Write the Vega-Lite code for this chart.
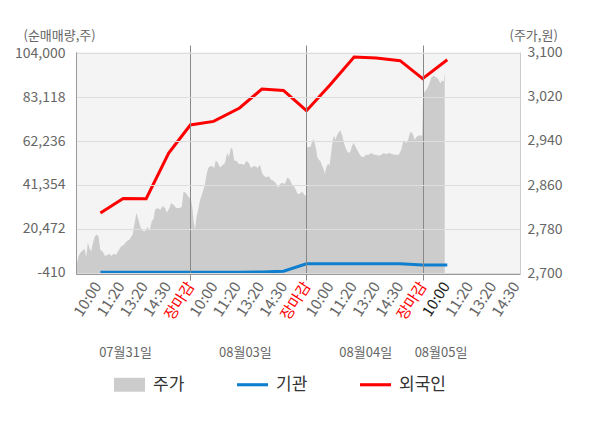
{
  "$schema": "https://vega.github.io/schema/vega-lite/v6.json",
  "width": 444,
  "height": 222,
  "autosize": "none",
  "padding": {"left": 76, "top": 52, "right": 80, "bottom": 154},
  "background": "white",
  "config": {
    "font": "Noto Sans CJK KR",
    "view": {"fill": "#f4f4f4", "stroke": null},
    "axis": {"labelFont": "Noto Sans CJK KR", "titleFont": "Noto Sans CJK KR", "titleFontWeight": "normal"}
  },
  "datasets": {
    "price": [
      {"t": 0.08, "p": 2714}, {"t": 0.13, "p": 2718}, {"t": 0.19, "p": 2731}, {"t": 0.27, "p": 2737},
      {"t": 0.37, "p": 2741}, {"t": 0.45, "p": 2744}, {"t": 0.52, "p": 2729}, {"t": 0.59, "p": 2756},
      {"t": 0.66, "p": 2745}, {"t": 0.73, "p": 2739}, {"t": 0.80, "p": 2753}, {"t": 0.87, "p": 2764},
      {"t": 0.95, "p": 2770}, {"t": 1.05, "p": 2767}, {"t": 1.13, "p": 2742}, {"t": 1.23, "p": 2739},
      {"t": 1.33, "p": 2731}, {"t": 1.45, "p": 2733}, {"t": 1.52, "p": 2735}, {"t": 1.59, "p": 2731},
      {"t": 1.70, "p": 2735}, {"t": 1.81, "p": 2733}, {"t": 1.88, "p": 2739}, {"t": 2.02, "p": 2748},
      {"t": 2.13, "p": 2751}, {"t": 2.24, "p": 2757}, {"t": 2.38, "p": 2761}, {"t": 2.52, "p": 2770},
      {"t": 2.59, "p": 2788}, {"t": 2.68, "p": 2809}, {"t": 2.77, "p": 2797}, {"t": 2.85, "p": 2784},
      {"t": 2.95, "p": 2777}, {"t": 3.05, "p": 2776}, {"t": 3.17, "p": 2784}, {"t": 3.24, "p": 2776},
      {"t": 3.34, "p": 2794}, {"t": 3.42, "p": 2798}, {"t": 3.48, "p": 2815}, {"t": 3.59, "p": 2818},
      {"t": 3.71, "p": 2815}, {"t": 3.81, "p": 2822}, {"t": 3.91, "p": 2818}, {"t": 4.00, "p": 2810},
      {"t": 4.10, "p": 2818}, {"t": 4.17, "p": 2827}, {"t": 4.28, "p": 2824}, {"t": 4.39, "p": 2818},
      {"t": 4.53, "p": 2818}, {"t": 4.63, "p": 2820}, {"t": 4.71, "p": 2848}, {"t": 4.82, "p": 2845},
      {"t": 4.91, "p": 2839}, {"t": 5.00, "p": 2836},
      {"t": 5.03, "p": 2833}, {"t": 5.09, "p": 2818}, {"t": 5.14, "p": 2795}, {"t": 5.20, "p": 2779},
      {"t": 5.27, "p": 2803}, {"t": 5.34, "p": 2815}, {"t": 5.42, "p": 2833}, {"t": 5.49, "p": 2842},
      {"t": 5.56, "p": 2851}, {"t": 5.63, "p": 2861}, {"t": 5.70, "p": 2879}, {"t": 5.77, "p": 2891},
      {"t": 5.85, "p": 2894}, {"t": 5.95, "p": 2894}, {"t": 6.03, "p": 2891}, {"t": 6.09, "p": 2904},
      {"t": 6.17, "p": 2902}, {"t": 6.28, "p": 2892}, {"t": 6.38, "p": 2896}, {"t": 6.49, "p": 2900},
      {"t": 6.58, "p": 2918}, {"t": 6.66, "p": 2912}, {"t": 6.75, "p": 2928}, {"t": 6.82, "p": 2924},
      {"t": 6.89, "p": 2904}, {"t": 6.99, "p": 2904}, {"t": 7.09, "p": 2898}, {"t": 7.20, "p": 2898},
      {"t": 7.32, "p": 2897}, {"t": 7.42, "p": 2904}, {"t": 7.52, "p": 2900}, {"t": 7.61, "p": 2891},
      {"t": 7.71, "p": 2894}, {"t": 7.81, "p": 2894}, {"t": 7.89, "p": 2891}, {"t": 8.00, "p": 2897},
      {"t": 8.09, "p": 2882}, {"t": 8.18, "p": 2876}, {"t": 8.28, "p": 2874}, {"t": 8.38, "p": 2876},
      {"t": 8.47, "p": 2870}, {"t": 8.57, "p": 2868}, {"t": 8.67, "p": 2864}, {"t": 8.78, "p": 2855},
      {"t": 8.87, "p": 2862}, {"t": 8.95, "p": 2864}, {"t": 9.07, "p": 2862}, {"t": 9.18, "p": 2874},
      {"t": 9.28, "p": 2870}, {"t": 9.38, "p": 2861}, {"t": 9.50, "p": 2855}, {"t": 9.61, "p": 2844},
      {"t": 9.71, "p": 2844}, {"t": 9.81, "p": 2848}, {"t": 9.93, "p": 2841}, {"t": 9.99, "p": 2841},
      {"t": 10.03, "p": 2929}, {"t": 10.17, "p": 2929}, {"t": 10.29, "p": 2944}, {"t": 10.36, "p": 2936},
      {"t": 10.42, "p": 2924}, {"t": 10.46, "p": 2912}, {"t": 10.53, "p": 2906}, {"t": 10.60, "p": 2903},
      {"t": 10.67, "p": 2895}, {"t": 10.75, "p": 2888}, {"t": 10.79, "p": 2879}, {"t": 10.84, "p": 2891},
      {"t": 10.93, "p": 2899}, {"t": 10.99, "p": 2895}, {"t": 11.07, "p": 2921}, {"t": 11.13, "p": 2942},
      {"t": 11.19, "p": 2950}, {"t": 11.24, "p": 2942}, {"t": 11.32, "p": 2951}, {"t": 11.39, "p": 2956},
      {"t": 11.46, "p": 2959}, {"t": 11.53, "p": 2951}, {"t": 11.60, "p": 2939}, {"t": 11.67, "p": 2929},
      {"t": 11.75, "p": 2921}, {"t": 11.82, "p": 2918}, {"t": 11.89, "p": 2921}, {"t": 11.96, "p": 2931},
      {"t": 12.03, "p": 2937}, {"t": 12.10, "p": 2931}, {"t": 12.17, "p": 2925}, {"t": 12.27, "p": 2917},
      {"t": 12.36, "p": 2912}, {"t": 12.46, "p": 2911}, {"t": 12.56, "p": 2915}, {"t": 12.68, "p": 2915},
      {"t": 12.79, "p": 2918}, {"t": 12.90, "p": 2915}, {"t": 13.00, "p": 2915}, {"t": 13.11, "p": 2913},
      {"t": 13.22, "p": 2915}, {"t": 13.33, "p": 2918}, {"t": 13.43, "p": 2916}, {"t": 13.54, "p": 2918},
      {"t": 13.66, "p": 2917}, {"t": 13.76, "p": 2915}, {"t": 13.86, "p": 2915}, {"t": 13.97, "p": 2915},
      {"t": 14.08, "p": 2924}, {"t": 14.18, "p": 2942}, {"t": 14.28, "p": 2936}, {"t": 14.37, "p": 2942},
      {"t": 14.47, "p": 2957}, {"t": 14.57, "p": 2953}, {"t": 14.66, "p": 2942}, {"t": 14.75, "p": 2948},
      {"t": 14.85, "p": 2950}, {"t": 14.98, "p": 2950},
      {"t": 15.02, "p": 3022}, {"t": 15.09, "p": 3030}, {"t": 15.19, "p": 3035}, {"t": 15.26, "p": 3041},
      {"t": 15.37, "p": 3055}, {"t": 15.48, "p": 3059}, {"t": 15.54, "p": 3057}, {"t": 15.66, "p": 3053},
      {"t": 15.76, "p": 3045}, {"t": 15.83, "p": 3050}, {"t": 15.91, "p": 3048}, {"t": 15.95, "p": 3065}
    ],
    "flow": [
      {"t": 1.13, "foreign": 28066, "institution": 0},
      {"t": 2.11, "foreign": 34995, "institution": 0},
      {"t": 3.10, "foreign": 34850, "institution": 0},
      {"t": 4.07, "foreign": 56542, "institution": 0},
      {"t": 5.00, "foreign": 69831, "institution": 0},
      {"t": 6.00, "foreign": 71539, "institution": 0},
      {"t": 7.12, "foreign": 77899, "institution": 0},
      {"t": 8.08, "foreign": 86916, "institution": 50},
      {"t": 9.01, "foreign": 86252, "institution": 400},
      {"t": 10.00, "foreign": 76618, "institution": 4000},
      {"t": 11.02, "foreign": 88900, "institution": 4000},
      {"t": 12.05, "foreign": 102104, "institution": 4000},
      {"t": 13.00, "foreign": 101600, "institution": 4000},
      {"t": 14.03, "foreign": 100348, "institution": 3950},
      {"t": 15.00, "foreign": 91805, "institution": 3400},
      {"t": 16.06, "foreign": 100822, "institution": 3400}
    ]
  },
  "layer": [
    {
      "data": {"name": "price"},
      "mark": {"type": "area", "color": "#cccccc", "opacity": 1},
      "encoding": {
        "x": {
          "field": "t",
          "type": "quantitative",
          "scale": {"domain": [0.08, 19.19], "nice": false, "zero": false},
          "axis": {
            "orient": "bottom",
            "title": null,
            "values": [1, 2, 3, 4, 5, 6, 7, 8, 9, 10, 11, 12, 13, 14, 15, 16, 17, 18, 19],
            "labelExpr": "['10:00','11:20','13:20','14:30','장마감'][(datum.value - 1) % 5]",
            "labelAngle": -57,
            "labelFontSize": 15,
            "labelOverlap": false,
            "labelBound": false,
            "labelFlush": false,
            "labelPadding": 3,
            "labelColor": {
              "condition": [
                {"test": "datum.value % 5 == 0", "value": "#ff0000"},
                {"test": "datum.value == 16", "value": "#222222"}
              ],
              "value": "#666666"
            },
            "tickColor": "#888888",
            "tickSize": 6,
            "tickOpacity": {"condition": {"test": "datum.value % 5 == 0", "value": 1}, "value": 0},
            "domainColor": "#999999",
            "grid": false
          }
        },
        "y": {
          "field": "p",
          "type": "quantitative",
          "scale": {"domain": [2698.2, 3101.8], "nice": false, "zero": false},
          "axis": {
            "orient": "right",
            "values": [2700, 2780, 2860, 2940, 3020, 3100],
            "format": ",.0f",
            "labelFontSize": 14,
            "labelColor": "#666666",
            "labelPadding": 7,
            "ticks": false,
            "tickSize": 0,
            "grid": false,
            "domainColor": "#cccccc",
            "title": "(주가,원)",
            "titleAngle": 0,
            "titleAlign": "left",
            "titleBaseline": "middle",
            "titleX": -11,
            "titleY": -17,
            "titleFontSize": 13,
            "titleColor": "#666666"
          }
        },
        "y2": {"datum": 2698.2},
        "color": {
          "datum": "주가",
          "type": "nominal",
          "scale": {"domain": ["주가", "기관", "외국인"], "range": ["#cccccc", "#0e7fce", "#ff0000"]},
          "legend": {
            "title": null,
            "orient": "none",
            "direction": "horizontal",
            "legendX": 38,
            "legendY": 317,
            "padding": 0,
            "symbolSize": 961,
            "symbolOpacity": 1,
            "labelFontSize": 17,
            "labelColor": "#333333",
            "labelOffset": 8,
            "columnPadding": 52,
            "encode": {
              "symbols": {
                "update": {
                  "shape": {"signal": "datum.value === '주가' ? 'M-1,-0.45H1V0.45H-1Z' : 'M-1,-0.1H1V0.1H-1Z'"},
                  "fill": {"scale": "color", "field": "value"},
                  "stroke": {"value": "transparent"},
                  "strokeWidth": {"value": 0},
                  "opacity": {"value": 1}
                }
              }
            }
          }
        }
      }
    },
    {
      "data": {"name": "flow"},
      "mark": {"type": "line", "strokeWidth": 3},
      "encoding": {
        "x": {
          "field": "t",
          "type": "quantitative",
          "scale": {"domain": [0.08, 19.19], "nice": false, "zero": false},
          "axis": {
            "orient": "bottom",
            "title": null,
            "values": [2.19, 7.35, 12.53, 15.77],
            "labelExpr": "datum.value < 5 ? '07월31일' : datum.value < 10 ? '08월03일' : datum.value < 15 ? '08월04일' : '08월05일'",
            "labelAngle": 0,
            "labelFontSize": 13,
            "labelColor": "#666666",
            "labelPadding": 72,
            "labelOverlap": false,
            "labelBound": false,
            "ticks": false,
            "tickSize": 0,
            "domain": false,
            "grid": false
          }
        },
        "y": {
          "field": "institution",
          "type": "quantitative",
          "scale": {"domain": [-885, 104475], "nice": false, "zero": false},
          "axis": {
            "orient": "left",
            "values": [-410, 20472, 41354, 62236, 83118, 104000],
            "format": ",.0f",
            "labelExpr": "replace(datum.label, '−', '-')",
            "labelFontSize": 14,
            "labelColor": "#666666",
            "labelPadding": 11,
            "ticks": false,
            "tickSize": 0,
            "grid": true,
            "gridColor": "#dddddd",
            "gridWidth": 1,
            "domainColor": "#999999",
            "zindex": 1,
            "title": "(순매매량,주)",
            "titleAngle": 0,
            "titleAlign": "left",
            "titleBaseline": "middle",
            "titleX": -53,
            "titleY": -17,
            "titleFontSize": 13,
            "titleColor": "#666666"
          }
        },
        "color": {"datum": "기관", "type": "nominal"}
      }
    },
    {
      "data": {"name": "flow"},
      "mark": {"type": "line", "strokeWidth": 3},
      "encoding": {
        "x": {
          "field": "t",
          "type": "quantitative",
          "scale": {"domain": [0.08, 19.19], "nice": false, "zero": false},
          "axis": {
            "orient": "top",
            "title": null,
            "values": [5, 10, 15],
            "labels": false,
            "domain": false,
            "ticks": true,
            "tickSize": 7,
            "tickColor": "#888888",
            "grid": true,
            "gridColor": "#888888",
            "gridWidth": 1,
            "zindex": 1
          }
        },
        "y": {
          "field": "foreign",
          "type": "quantitative",
          "scale": {"domain": [-885, 104475], "nice": false, "zero": false},
          "axis": null
        },
        "color": {"datum": "외국인", "type": "nominal"}
      }
    }
  ],
  "resolve": {
    "scale": {"y": "independent"},
    "axis": {"x": "independent", "y": "independent"}
  }
}
